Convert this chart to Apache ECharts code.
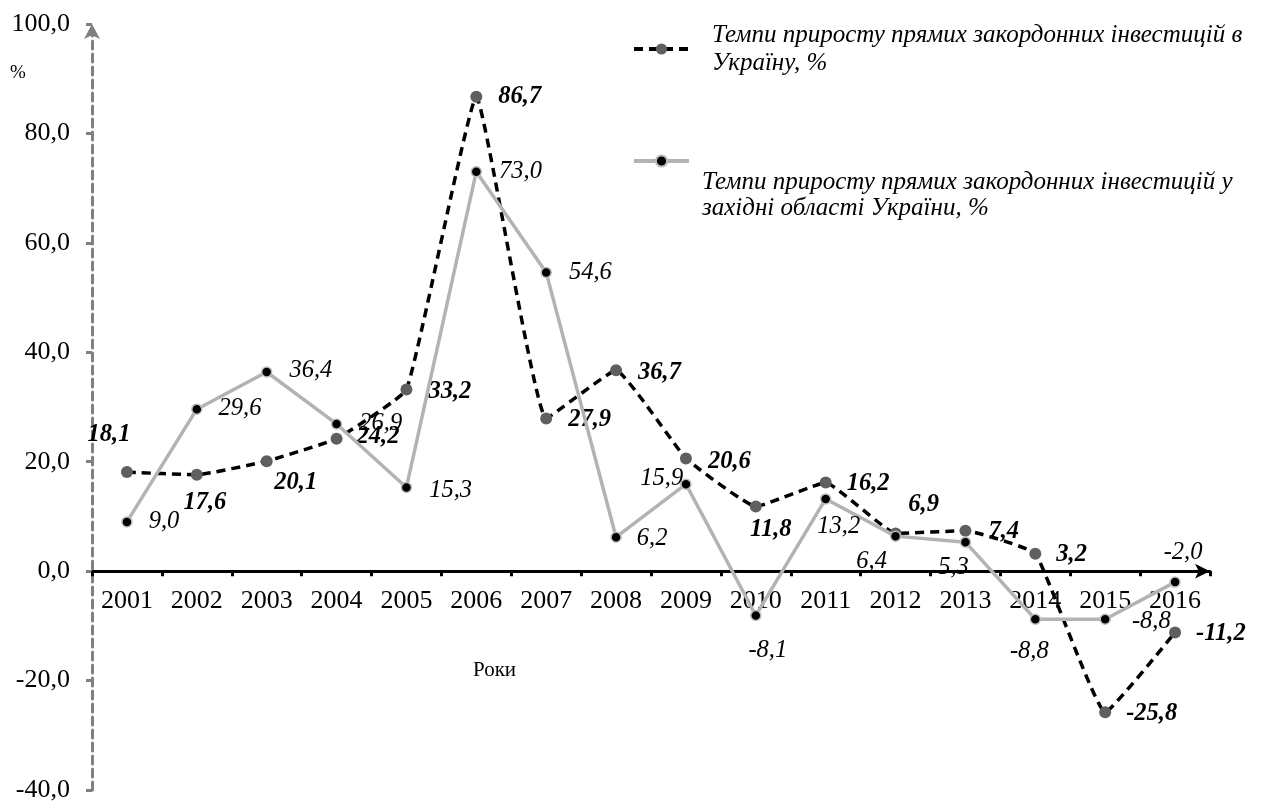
<!DOCTYPE html>
<html>
<head>
<meta charset="utf-8">
<script src="https://cdn.jsdelivr.net/npm/echarts@6/dist/echarts.min.js"></script>
<style>
html,body{margin:0;padding:0;background:#fff;}
#chart{width:1265px;height:803px;}
</style>
</head>
<body>
<div id="chart"></div>
<script>
// ---- data ----
const years = ['2001','2002','2003','2004','2005','2006','2007','2008','2009','2010','2011','2012','2013','2014','2015','2016'];
const ukraineGrowth = [18.1, 17.6, 20.1, 24.2, 33.2, 86.7, 27.9, 36.7, 20.6, 11.8, 16.2, 6.9, 7.4, 3.2, -25.8, -11.2];
const westernGrowth = [9.0, 29.6, 36.4, 26.9, 15.3, 73.0, 54.6, 6.2, 15.9, -8.1, 13.2, 6.4, 5.3, -8.8, -8.8, -2.0];
const seriesNames = [
  'Темпи приросту прямих закордонних інвестицій в Україну, %',
  'Темпи приросту прямих закордонних інвестицій у західні області України, %'
];
const legendLines = [
  ['Темпи приросту прямих закордонних інвестицій в', 'Україну, %'],
  ['Темпи приросту прямих закордонних інвестицій у', 'західні області України, %']
];
const yMin = -40, yMax = 100, yInterval = 20;

// ---- label placement (styling) ----
const ukraineLabelPlace = [
  ['top',[-18,-14]], ['bottom',[8,4]], ['bottom',[29,-2]], ['right',[9,-2]],
  ['right',[11,2]], ['right',[11,0]], ['right',[11,1]], ['right',[11,2]],
  ['right',[11,3]], ['bottom',[15,0]], ['right',[10,1]], ['top',[28,-5]],
  ['right',[12,1]], ['right',[10,1]], ['right',[10,1]], ['right',[10,1]]
];
const westernLabelPlace = [
  ['right',[11,0]], ['right',[11,-1]], ['right',[12,-1]], ['right',[12,0]],
  ['right',[12,3]], ['right',[12,0]], ['right',[12,0]], ['right',[10,1]],
  ['left',[8,-6]], ['bottom',[12,12]], ['bottom',[13,4]], ['bottom',[-24,2]],
  ['bottom',[-12,2]], ['bottom',[-6,9]], ['right',[16,2]], ['top',[8,-6]]
];

const FONT = "'Liberation Serif', 'Times New Roman', serif";
const fmt = v => v.toFixed(1).replace('.', ',');

function buildData(values, place) {
  return values.map((v, i) => ({
    value: v,
    label: {position: place[i][0], offset: place[i][1]}
  }));
}

const W = 1265, H = 803;
const gridTop = 24, gridBottom = 13;
const gridH = H - gridTop - gridBottom;
// move x axis (line, ticks, labels) up to the zero line
const xAxisOffset = -((0 - yMin) / (yMax - yMin)) * gridH;

const chart = echarts.init(document.getElementById('chart'), null, {renderer: 'canvas'});
chart.setOption({
  backgroundColor: '#ffffff',
  animation: false,
  grid: {left: 92, right: 55, top: gridTop, bottom: gridBottom, containLabel: false, outerBoundsMode: 'none'},
  legend: [
    {
      data: [seriesNames[0]],
      left: 632, top: 21, padding: 0,
      itemWidth: 55, itemHeight: 14, itemGap: 0,
      lineStyle: {width: 4, type: [9, 6]},
      formatter: () => legendLines[0].join('\n'),
      textStyle: {fontFamily: FONT, fontStyle: 'italic', fontSize: 25, color: '#000', lineHeight: 28, padding: [0,0,0,18]},
      selectedMode: false
    },
    {
      data: [seriesNames[1]],
      left: 632, top: 130, padding: 0,
      itemWidth: 55, itemHeight: 14, itemGap: 0,
      lineStyle: {width: 4},
      formatter: () => '{s| }\n{t|' + legendLines[1][0] + '}\n{t|' + legendLines[1][1] + '}',
      textStyle: {
        fontFamily: FONT, fontStyle: 'italic', fontSize: 25, color: '#000', padding: [0,0,0,8],
        rich: {
          s: {fontSize: 10, lineHeight: 68},
          t: {fontFamily: FONT, fontStyle: 'italic', fontSize: 25, color: '#000', lineHeight: 26}
        }
      },
      selectedMode: false
    }
  ],
  xAxis: {
    type: 'category',
    data: years,
    boundaryGap: true,
    position: 'bottom',
    offset: xAxisOffset,
    axisLine: {
      onZero: false,
      lineStyle: {color: '#000', width: 3},
      symbol: ['none', 'arrow'],
      symbolSize: [11, 15]
    },
    axisTick: {show: true, inside: false, length: 5, lineStyle: {color: '#000', width: 3}},
    axisLabel: {fontFamily: FONT, fontSize: 26, color: '#000', margin: 17},
    splitLine: {show: false}
  },
  yAxis: {
    type: 'value',
    min: yMin, max: yMax, interval: yInterval,
    axisLine: {
      show: true,
      lineStyle: {color: '#808080', width: 3, type: [8, 5]},
      symbol: ['none', 'arrow'],
      symbolSize: [12, 15]
    },
    axisTick: {show: true, length: 6, lineStyle: {color: '#808080', width: 3}},
    axisLabel: {fontFamily: FONT, fontSize: 26, color: '#000', margin: 22, formatter: fmt},
    splitLine: {show: false}
  },
  graphic: [
    {type: 'text', left: 10, top: 64, style: {text: '%', font: "19px 'Liberation Serif'", fill: '#000'}},
    {type: 'text', left: 473, top: 660, style: {text: 'Роки', font: "21px 'Liberation Serif'", fill: '#000'}}
  ],
  series: [
    {
      name: seriesNames[0],
      type: 'line',
      z: 2,
      smooth: 0.1,
      data: buildData(ukraineGrowth, ukraineLabelPlace),
      symbol: 'circle',
      symbolSize: 12,
      itemStyle: {color: '#5f5f5f', borderWidth: 0},
      lineStyle: {color: '#000', width: 3.5, type: [9, 6]},
      label: {
        show: true, distance: 5,
        fontFamily: FONT, fontStyle: 'italic', fontWeight: 'bold', fontSize: 24.5, color: '#000',
        formatter: p => fmt(p.value)
      }
    },
    {
      name: seriesNames[1],
      type: 'line',
      z: 3,
      data: buildData(westernGrowth, westernLabelPlace),
      symbol: 'circle',
      symbolSize: 10,
      itemStyle: {color: '#000', borderColor: '#bdbdbd', borderWidth: 1.5},
      lineStyle: {color: '#b3b3b3', width: 3.5},
      label: {
        show: true, distance: 5,
        fontFamily: FONT, fontStyle: 'italic', fontSize: 24.5, color: '#000',
        formatter: p => fmt(p.value)
      }
    }
  ]
});
</script>
</body>
</html>
